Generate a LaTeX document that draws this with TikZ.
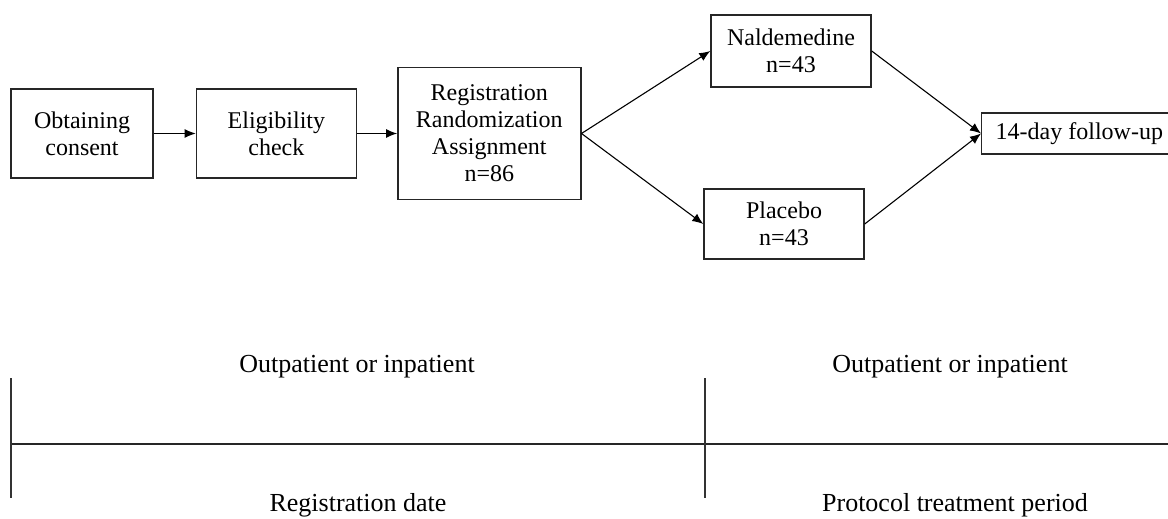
\documentclass[tikz,border=0pt]{standalone}
\usepackage{fontspec}
\setmainfont{Liberation Serif}
\usetikzlibrary{arrows.meta,positioning}

\begin{document}
\begin{tikzpicture}[
  x=0.5pt, y=-0.5pt,
  font=\fontsize{12}{13.5}\selectfont,
  node distance=20.5pt,
  box/.style={draw=black!85, line width=0.7pt, align=center, inner sep=2pt},
  arrow/.style={-{Latex[length=5.5pt,width=4.5pt]}, line width=0.55pt},
  tick/.style={draw=black!80, line width=0.9pt},
  timeline/.style={draw=black!85, line width=1.3pt},
  periodtext/.style={inner sep=0pt, font=\fontsize{13}{14}\selectfont}
]
\useasboundingbox (0,0) rectangle (1168,519);

% flow of the trial
\node[box, minimum width=71pt, minimum height=44.5pt] (consent) at (82,133.5) {Obtaining\\consent};
\node[box, minimum width=80pt, minimum height=44.5pt, right=21pt of consent] (check) {Eligibility\\check};
\node[box, minimum width=91.5pt, minimum height=66pt, right=20pt of check] (regist) {Registration\\Randomization\\Assignment\\n=86};
\node[box, minimum width=80pt, minimum height=36pt] (nalde) at (791,51) {Naldemedine\\n=43};
\node[box, minimum width=80pt, minimum height=35pt] (placebo) at (784,224) {Placebo\\n=43};
\node[box, minimum width=97pt, minimum height=20.5pt, inner xsep=7pt, anchor=west] (follow) at (981,133.5) {14-day follow-up};

\draw[arrow] (consent) -- (check);
\draw[arrow] (check) -- (regist);
\draw[arrow] (regist.east) -- (nalde.west);
\draw[arrow] (regist.east) -- (placebo.west);
\draw[arrow] (nalde.east) -- (follow.west);
\draw[arrow] (placebo.east) -- (follow.west);

% time line
\coordinate (start) at (11,444);
\coordinate (split) at (705,444);
\coordinate (stop) at (1168,444);
\draw[timeline] (start) -- (stop);
\draw[tick] (start) ++(0,-66) -- ++(0,120);
\draw[tick] (split) ++(0,-66) -- ++(0,120);

\node[periodtext] (where1) at (357,367) {Outpatient or inpatient};
\node[periodtext] (where2) at (950,367) {Outpatient or inpatient};
\node[periodtext] (regdate) at (358,505) {Registration date};
\node[periodtext] (period) at (955,505) {Protocol treatment period};
\end{tikzpicture}
\end{document}
